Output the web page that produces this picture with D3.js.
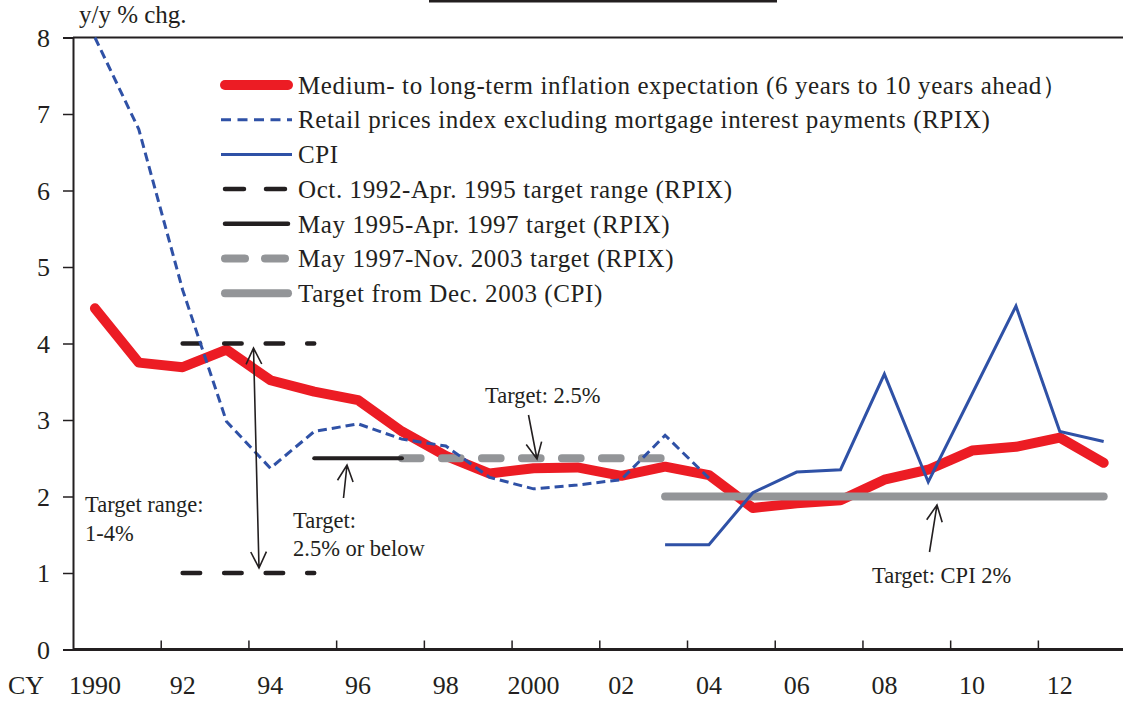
<!DOCTYPE html>
<html>
<head>
<meta charset="utf-8">
<script src="https://cdn.jsdelivr.net/npm/d3@7"></script>
<style>
  body { margin: 0; background: #fff; }
  svg { display: block; font-family: "Liberation Serif", "Times New Roman", serif; }
  .tick-label { font-family: "Liberation Serif", serif; font-size: 26px; fill: #231f20; }
  .legend-text { font-family: "Liberation Serif", serif; font-size: 25px; letter-spacing: 0.6px; fill: #231f20; }
  .note { font-family: "Liberation Serif", serif; font-size: 22.5px; fill: #231f20; }
</style>
</head>
<body>
<div class="display"></div>
<script>
// UK inflation: expectations vs actual vs targets

const WIDTH = 1123;
const HEIGHT = 701;

const years = [1990, 1991, 1992, 1993, 1994, 1995, 1996, 1997, 1998, 1999, 2000, 2001,
  2002, 2003, 2004, 2005, 2006, 2007, 2008, 2009, 2010, 2011, 2012, 2013];
const expectation = [4.46, 3.75, 3.69, 3.92, 3.52, 3.37, 3.26, 2.85, 2.53, 2.30, 2.37, 2.38,
  2.27, 2.39, 2.28, 1.85, 1.91, 1.95, 2.22, 2.35, 2.60, 2.65, 2.77, 2.44];

const rpixYears = [1990, 1991, 1992, 1993, 1994, 1995, 1996, 1997, 1998, 1999, 2000, 2001, 2002, 2003, 2004];
const rpix = [8.0, 6.8, 4.7, 2.98, 2.37, 2.85, 2.95, 2.75, 2.66, 2.25, 2.10, 2.15, 2.22, 2.80, 2.24];

const cpiYears = [2003, 2004, 2005, 2006, 2007, 2008, 2009, 2010, 2011, 2012, 2013];
const cpi = [1.37, 1.37, 2.05, 2.32, 2.35, 3.60, 2.19, 3.34, 4.49, 2.85, 2.72];

const rangeYears = [1992, 1995];
const rangeHigh = [4, 4];
const rangeLow = [1, 1];
const target95Years = [1995, 1997];
const target95 = [2.5, 2.5];
const target97Years = [1997, 2003];
const target97 = [2.5, 2.5];
const target03Years = [2003, 2013];
const target03 = [2, 2];

const yTicks = [0, 1, 2, 3, 4, 5, 6, 7, 8];
const xTickYears = [1992, 1994, 1996, 1998, 2000, 2002, 2004, 2006, 2008, 2010, 2012];
const xLabelYears = [1990, 1992, 1994, 1996, 1998, 2000, 2002, 2004, 2006, 2008, 2010, 2012];
const xLabels = ['1990', '92', '94', '96', '98', '2000', '02', '04', '06', '08', '10', '12'];

const legendItems = [
  'Medium- to long-term inflation expectation (6 years to 10 years ahead）',
  'Retail prices index excluding mortgage interest payments (RPIX)',
  'CPI',
  'Oct. 1992-Apr. 1995 target range (RPIX)',
  'May 1995-Apr. 1997 target (RPIX)',
  'May 1997-Nov. 2003 target (RPIX)',
  'Target from Dec. 2003 (CPI)'
];

const RED = '#ec1c24';
const BLUE = '#2f51a6';
const BLACK = '#231f20';
const GRAY = '#939598';

const x = d3.scaleLinear().domain([1990, 2014]).range([73, 1125.6]);
const y = d3.scaleLinear().domain([0, 8]).range([649.5, 37.5]);
const px = yr => x(yr + 0.5);

const svg = d3.select('.display')
  .append('svg')
  .attr('width', WIDTH)
  .attr('height', HEIGHT);

// remnant of title border at top
svg.append('line')
  .attr('x1', 429).attr('x2', 777).attr('y1', 1).attr('y2', 1)
  .attr('stroke', BLACK).attr('stroke-width', 3);

// top frame line at 8
svg.append('line')
  .attr('x1', x(1990)).attr('x2', WIDTH).attr('y1', y(8)).attr('y2', y(8))
  .attr('stroke', BLACK).attr('stroke-width', 2);

// y axis
const yAxis = svg.append('g')
  .attr('transform', `translate(${x(1990)},0)`)
  .call(d3.axisLeft(y).tickValues(yTicks).tickSize(10).tickFormat(d3.format('d')))
  .attr('font-family', null)
  .attr('font-size', null);
yAxis.select('.domain').attr('stroke', BLACK).attr('stroke-width', 2);
yAxis.selectAll('.tick line').attr('stroke', BLACK).attr('stroke-width', 1.5);
yAxis.selectAll('.tick text')
  .attr('class', 'tick-label')
  .attr('x', -23)
  .attr('dy', '0.34em');

// x axis
const xAxis = svg.append('g')
  .attr('transform', `translate(0,${y(0)})`)
  .call(d3.axisBottom(x).tickValues(xTickYears).tickSize(-9).tickFormat(''));
xAxis.select('.domain').attr('d', `M${x(1990)},0H${WIDTH}`).attr('stroke', BLACK).attr('stroke-width', 3);
xAxis.selectAll('.tick line').attr('stroke', BLACK).attr('stroke-width', 1.5);

svg.append('g')
  .selectAll('text')
  .data(xLabelYears)
  .enter()
  .append('text')
  .attr('class', 'tick-label')
  .attr('x', d => px(d))
  .attr('y', 694)
  .attr('text-anchor', 'middle')
  .text((d, i) => xLabels[i]);

svg.append('text')
  .attr('class', 'tick-label')
  .attr('x', 8).attr('y', 694)
  .text('CY');

svg.append('text')
  .attr('class', 'legend-text')
  .attr('x', 79).attr('y', 23)
  .style('letter-spacing', '0px')
  .text('y/y % chg.');

const line = d3.line().x(d => px(d[0])).y(d => y(d[1]));
const zipped = (xs, vs) => xs.map((d, i) => [d, vs[i]]);

const plot = svg.append('g');

// expectation
plot.append('path')
  .attr('d', line(zipped(years, expectation)))
  .attr('fill', 'none').attr('stroke', RED).attr('stroke-width', 10)
  .attr('stroke-linejoin', 'round').attr('stroke-linecap', 'round');

// targets
plot.append('path')
  .attr('d', line(zipped(target03Years, target03)))
  .attr('fill', 'none').attr('stroke', GRAY).attr('stroke-width', 8)
  .attr('stroke-linecap', 'round');

plot.append('path')
  .attr('d', line(zipped(target97Years, target97)))
  .attr('fill', 'none').attr('stroke', GRAY).attr('stroke-width', 8)
  .attr('stroke-linecap', 'round')
  .attr('stroke-dasharray', '18.7,21.3');

plot.append('path')
  .attr('d', line(zipped(target95Years, target95)))
  .attr('fill', 'none').attr('stroke', BLACK).attr('stroke-width', 4)
  .attr('stroke-linecap', 'round');

[rangeHigh, rangeLow].forEach(vals => {
  plot.append('path')
    .attr('d', line(zipped(rangeYears, vals)))
    .attr('fill', 'none').attr('stroke', BLACK).attr('stroke-width', 4.5)
    .attr('stroke-linecap', 'round')
    .attr('stroke-dasharray', '17.5,24');
});

// RPIX and CPI
plot.append('path')
  .attr('d', line(zipped(rpixYears, rpix)))
  .attr('fill', 'none').attr('stroke', BLUE).attr('stroke-width', 3)
  .attr('stroke-dasharray', '9,5');

plot.append('path')
  .attr('d', line(zipped(cpiYears, cpi)))
  .attr('fill', 'none').attr('stroke', BLUE).attr('stroke-width', 3)
  .attr('stroke-linejoin', 'miter');

// arrows
const notes = svg.append('g');

function arrowHead(x1, y1, x2, y2) {
  const ang = Math.atan2(y2 - y1, x2 - x1);
  const len = 18, spread = 0.45;
  const a = [x2 - len * Math.cos(ang - spread), y2 - len * Math.sin(ang - spread)];
  const b = [x2 - len * Math.cos(ang + spread), y2 - len * Math.sin(ang + spread)];
  return `M${a[0]},${a[1]}L${x2},${y2}L${b[0]},${b[1]}`;
}

function arrow(x1, y1, x2, y2, both) {
  let d = `M${x1},${y1}L${x2},${y2}` + arrowHead(x1, y1, x2, y2);
  if (both) d += arrowHead(x2, y2, x1, y1);
  notes.append('path')
    .attr('d', d)
    .attr('fill', 'none').attr('stroke', BLACK).attr('stroke-width', 1.6);
}

arrow(259, 568, 253.5, 348, true);
arrow(343.5, 498, 347, 465);
arrow(528.5, 415, 537, 459);
arrow(929.5, 552, 937, 505);

const noteText = (tx, ty, s) => notes.append('text').attr('class', 'note').attr('x', tx).attr('y', ty).text(s);
noteText(85, 512, 'Target range:');
noteText(85, 541, '1-4%');
noteText(293, 528, 'Target:');
noteText(293, 556, '2.5% or below');
noteText(485, 403, 'Target: 2.5%');
noteText(872, 583, 'Target: CPI 2%');

// legend
const legend = svg.append('g').attr('transform', 'translate(221,0)');
const rowY = i => 85 + i * 34.7;
const sample = [
  { stroke: RED, width: 10, cap: 'round', dash: null },
  { stroke: BLUE, width: 3, cap: 'butt', dash: '10,6.5' },
  { stroke: BLUE, width: 3, cap: 'butt', dash: null },
  { stroke: BLACK, width: 4.5, cap: 'round', dash: '19,22' },
  { stroke: BLACK, width: 4.5, cap: 'round', dash: null },
  { stroke: GRAY, width: 8, cap: 'round', dash: '20,20' },
  { stroke: GRAY, width: 8, cap: 'round', dash: null }
];

const rows = legend.selectAll('g')
  .data(legendItems)
  .enter()
  .append('g')
  .attr('transform', (d, i) => `translate(0,${rowY(i)})`);

rows.append('line')
  .attr('x1', (d, i) => sample[i].cap === 'round' ? 4 : 0)
  .attr('x2', (d, i) => sample[i].cap === 'round' ? 67 : 71)
  .attr('stroke', (d, i) => sample[i].stroke)
  .attr('stroke-width', (d, i) => sample[i].width)
  .attr('stroke-linecap', (d, i) => sample[i].cap)
  .attr('stroke-dasharray', (d, i) => sample[i].dash);

rows.append('text')
  .attr('class', 'legend-text')
  .attr('x', 77)
  .attr('dy', '0.35em')
  .text(d => d);
</script>
</body>
</html>
